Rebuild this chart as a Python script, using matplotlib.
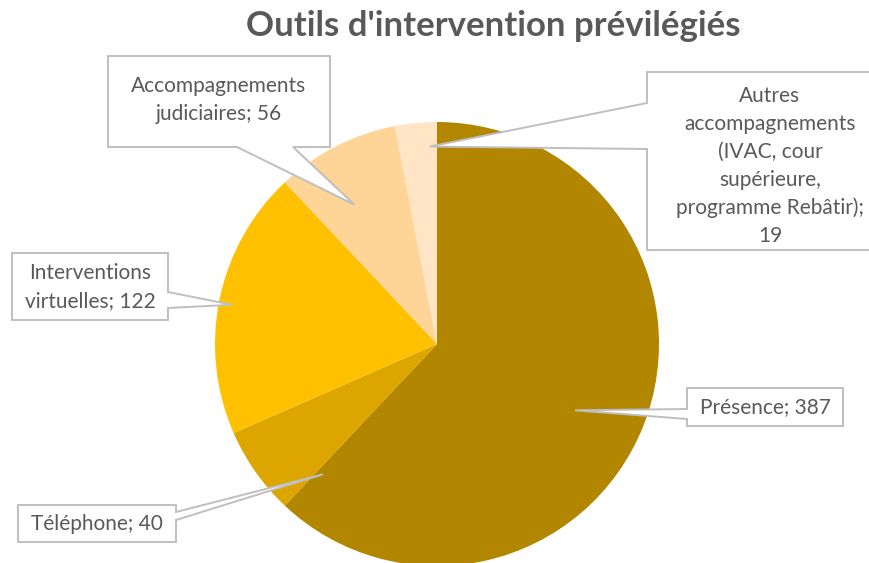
import numpy as np
import matplotlib
matplotlib.use("Agg")
import matplotlib.pyplot as plt
from matplotlib.patches import Polygon

# ---- data ----
categories = ["Présence", "Téléphone", "Interventions virtuelles",
              "Accompagnements judiciaires",
              "Autres accompagnements (IVAC, cour supérieure, programme Rebâtir)"]
values = [387, 40, 122, 56, 19]
label_texts = ["Présence; 387", "Téléphone; 40", "Interventions\nvirtuelles; 122",
               "Accompagnements\njudiciaires; 56",
               "Autres\naccompagnements\n(IVAC, cour\nsupérieure,\nprogramme Rebâtir);\n19"]
colors = ["#B38600", "#DCA500", "#FFC000", "#FFD497", "#FFE5C6"]
title = "Outils d'intervention prévilégiés"

W, H = 870, 563
CX, CY, R = 437, 344, 222

fig = plt.figure(figsize=(W / 100, H / 100), dpi=100)
ax = fig.add_axes([0, 0, 1, 1])

wedges, _ = ax.pie(values, colors=colors, startangle=90, counterclock=False,
                   radius=1, center=(0, 0), wedgeprops=dict(linewidth=0))
ax.set_xlim((0 - CX) / R, (W - CX) / R)
ax.set_ylim((CY - H) / R, CY / R)
ax.set_aspect("equal")
ax.axis("off")


def px(x, y):
    return ((x - CX) / R, (CY - y) / R)


# tip location: fraction of the wedge span (clockwise from its start) and radius
tips = [(0.518, 0.69), (-0.09, 0.78), (0.49, 0.94), (0.39, 0.73), (0.81, 0.89)]

# box layout in pixels
boxes = [
    dict(x0=687, x1=843, y0=388, y1=426, side="left", b=(409, 419), tc=(765, 407)),
    dict(x0=18, x1=176, y0=505, y1=542, side="right", b=(512, 520), tc=(97, 524)),
    dict(x0=12, x1=168, y0=253, y1=320, side="right", b=(292, 308), tc=(90, 287)),
    dict(x0=108, x1=330, y0=56, y1=147, side="bottom", b=(237, 293), tc=(219, 100)),
    dict(x0=647, x1=880, y0=72, y1=250, side="left", b=(103, 149), tc=(770, 166)),
]

for w, t, bx, lab in zip(wedges, tips, boxes, label_texts):
    a0, a1 = w.theta1, w.theta2
    frac, rr = t
    ang = np.deg2rad(a1 - frac * (a1 - a0))
    tip = (rr * np.cos(ang), rr * np.sin(ang))
    x0, x1, y0, y1 = bx["x0"], bx["x1"], bx["y0"], bx["y1"]
    b0, b1 = bx["b"]
    side = bx["side"]
    if side == "bottom":
        pts = [px(x0, y0), px(x1, y0), px(x1, y1), px(b1, y1), tip, px(b0, y1), px(x0, y1)]
    elif side == "right":
        pts = [px(x0, y0), px(x1, y0), px(x1, b0), tip, px(x1, b1), px(x1, y1), px(x0, y1)]
    else:  # left
        pts = [px(x0, y0), px(x1, y0), px(x1, y1), px(x0, y1), px(x0, b1), tip, px(x0, b0)]
    poly = Polygon(pts, closed=True, facecolor="white", edgecolor="#BFBFBF",
                   linewidth=1.4, zorder=5, joinstyle="miter")
    ax.add_patch(poly)
    tx, ty = px(*bx["tc"])
    ax.text(tx, ty, lab, ha="center", va="center", fontsize=15,
            family=["Lato", "DejaVu Sans"], color="#595959", zorder=6,
            linespacing=1.5)

fig.text(493 / W, 1 - 26 / H, title, ha="center", va="center", fontsize=25,
         fontweight="bold", family=["Lato", "DejaVu Sans"], color="#595959")

fig.savefig("out.png", dpi=100)
